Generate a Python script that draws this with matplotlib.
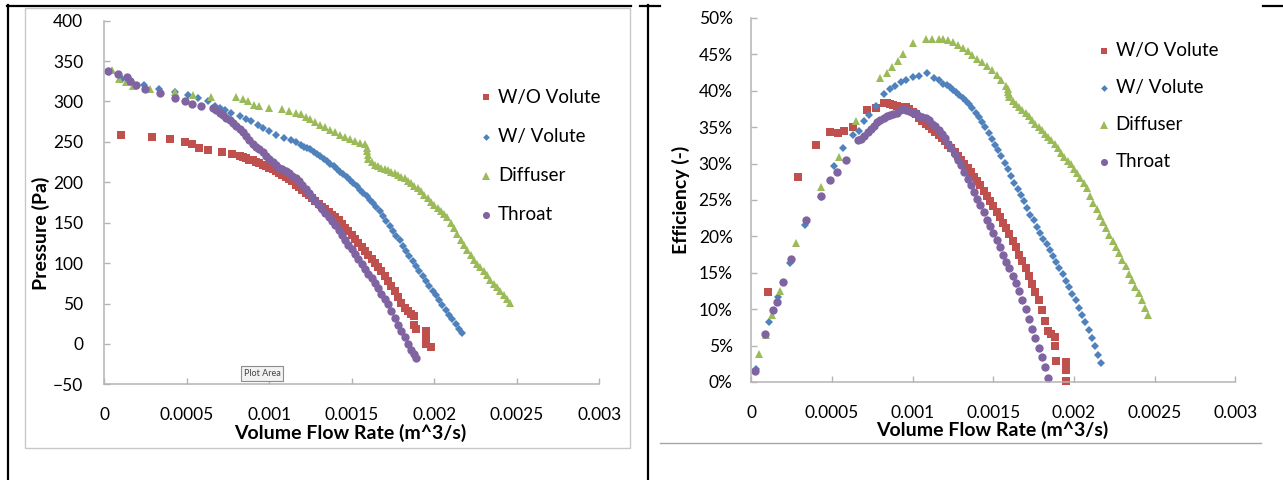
import numpy as np
import matplotlib
matplotlib.use("Agg")
import matplotlib.pyplot as plt
from matplotlib.lines import Line2D
from matplotlib.patches import Rectangle

plt.rcParams['font.family'] = ['Lato', 'DejaVu Sans']

W, H = 1283, 480

series_names = ["W/O Volute", "W/ Volute", "Diffuser", "Throat"]
series_colors = ["#C0504D", "#4F81BD", "#9BBB59", "#8064A2"]
series_markers = ["s", "D", "^", "o"]
marker_sizes = [5.6, 4.0, 6.0, 6.0]

x_ticks = [0, 0.0005, 0.001, 0.0015, 0.002, 0.0025, 0.003]
x_tick_labels = ["0", "0.0005", "0.001", "0.0015", "0.002", "0.0025", "0.003"]
p_ticks = [-50, 0, 50, 100, 150, 200, 250, 300, 350, 400]
eff_ticks = [0, 5, 10, 15, 20, 25, 30, 35, 40, 45, 50]

# volume flow rate, in 1e-5 m^3/s
q_wo = [10, 29, 40, 49, 53.5, 57.7, 63, 71.5, 77.2,
        82, 84, 86, 88, 90, 92, 94, 96, 98, 100, 102, 104, 106, 108, 110, 112, 114, 116, 118, 120,
        122, 124, 126, 128, 130, 132, 134, 136, 138, 140, 142, 144, 146, 148, 150, 152, 154, 156, 158, 160,
        162, 164, 166, 168, 170, 172, 174, 176, 178, 180, 182,
        184, 186, 188, 188, 189, 195, 195, 195, 198]
p_wo = [259, 256, 253, 250, 247, 243, 240, 238, 235.5,
        233, 231, 230, 228, 227, 225, 224, 222, 220, 218, 216, 214, 211, 209, 207, 204, 201, 197, 194, 190,
        187, 184, 180, 177, 173, 170, 167, 163, 160, 157, 153, 149, 144, 140, 135, 130, 125, 120, 115, 110,
        105, 100, 95, 90, 84, 78, 72, 65, 58, 51, 45,
        41, 37, 34, 24, 19, 16, 10, 0, -4]
eff_wo = [12.4, 28.2, 32.6, 34.4, 34.2, 34.5, 35.0, 37.3, 37.6,
          38.3, 38.3, 38.2, 38.1, 37.9, 37.8, 37.7, 37.8, 37.5, 37.1, 36.8, 36.3, 35.9, 35.5, 35.1, 34.7, 34.3, 33.9, 33.5, 33.1,
          32.6, 32.1, 31.6, 31.1, 30.5, 29.9, 29.4, 28.8, 28.2, 27.6, 27.0, 26.3, 25.6, 24.9, 24.2, 23.4, 22.7, 21.9, 21.1, 20.3,
          19.4, 18.5, 17.5, 16.6, 15.7, 14.6, 13.5, 12.4, 11.2, 9.9, 8.4,
          7.0, 6.6, 6.2, 4.9, 2.9, 2.8, 1.6, 0.1, -0.4]

q_wv = [3, 11, 16.5, 24, 33, 43, 51, 57, 63,
        67, 70, 73, 77, 82, 86, 89, 93, 96, 100, 104, 109, 113, 116,
        119, 121, 123, 125, 127, 129, 131, 133, 135, 137, 139, 141, 143, 145, 147, 149, 151, 153, 155, 157,
        159, 161, 163, 165, 167, 169, 171, 173, 175, 177, 179, 181, 183, 185, 187, 189, 191, 193, 195, 197,
        199, 201, 203, 205, 207, 209, 211, 213, 215, 217]
p_wv = [337, 328, 324, 320, 316, 312, 308, 304, 301,
        295, 292.5, 289, 285.5, 282, 278, 276, 271, 267, 263, 259, 255, 252, 250,
        246, 244, 243, 241, 238, 235, 232, 229, 226, 223, 220, 217, 213, 210, 206, 203, 199, 195, 191, 187,
        183, 178, 174, 169, 164, 158, 152, 146, 140, 134, 128, 121, 115, 109, 103, 96, 90, 84, 78, 72,
        66, 60, 54, 48, 42, 36, 31, 25, 19, 14]
eff_wv = [1.8, 8.3, 11.7, 16.4, 21.6, 25.4, 29.7, 32.1, 33.9,
          34.5, 35.8, 36.7, 37.9, 39.6, 40.3, 40.6, 41.2, 41.5, 41.9, 42.0, 42.4, 41.8, 41.5,
          41.0, 40.8, 40.5, 40.1, 39.8, 39.4, 39.0, 38.6, 38.2, 37.6, 37.0, 36.4, 35.7, 35.0, 34.2, 33.4, 32.6, 31.8, 31.0, 30.1,
          29.2, 28.3, 27.4, 26.5, 25.7, 24.8, 23.9, 23.0, 22.2, 21.3, 20.5, 19.7, 18.9, 18.1, 17.3, 16.5, 15.6, 14.8, 13.9, 13.0,
          12.1, 11.2, 10.2, 9.2, 8.2, 7.1, 6.0, 4.9, 3.7, 2.6]

q_df = [5, 9, 13, 17.5, 27.5, 43, 54, 65,
        80, 84, 87, 91, 94, 100, 108, 112, 116,
        119, 122, 125, 128, 131, 134, 137, 140, 143, 146, 149, 152, 155, 158, 159, 159, 160, 160,
        162, 164, 166, 168, 170, 172, 174, 176, 178, 180, 182, 184, 186, 188, 190, 192, 194, 196, 198, 200,
        202, 204, 206, 208, 210, 212, 214, 216, 218, 220, 222, 224, 226, 228, 230, 232, 234, 236, 238, 240,
        242, 244, 246]
p_df = [339, 328, 324, 319, 315, 312, 308, 306,
        306, 303, 300, 296, 294, 292, 290.5, 288, 286,
        284, 281, 278, 275, 271.5, 268, 265, 262, 259, 256, 253, 251, 249, 247, 243, 239, 234, 229,
        225, 222, 220, 218, 217, 215, 213, 211, 209, 207, 205, 202, 199, 196, 193, 189, 184, 180, 176, 172,
        168, 165, 161, 157, 150, 143, 136, 128, 122, 116, 110, 104, 99, 95, 90, 85, 79, 74, 70, 65,
        60, 55, 51]
eff_df = [3.8, 6.5, 9.2, 12.5, 19.1, 26.8, 30.9, 35.9,
          41.7, 42.5, 43.3, 44.1, 45.0, 46.5, 47.1, 47.1, 47.1,
          47.1, 47.0, 46.7, 46.3, 45.9, 45.4, 44.9, 44.4, 43.9, 43.4, 42.8, 42.2, 41.5, 40.7, 40.3, 39.9, 39.5, 39.1,
          38.6, 38.2, 37.8, 37.4, 37.0, 36.5, 36.0, 35.5, 35.0, 34.6, 34.1, 33.6, 33.2, 32.7, 32.1, 31.5, 30.9, 30.4, 29.9, 29.3,
          28.7, 28.0, 27.3, 26.6, 25.6, 24.6, 23.7, 22.8, 22.0, 21.1, 20.2, 19.4, 18.6, 17.7, 16.8, 15.9, 14.9, 14.0, 13.1, 12.2,
          11.2, 10.2, 9.2]

q_th = [2, 8.5, 13.7, 15.8, 19.5, 24.5, 34, 43, 49, 53.3, 58.7,
        66, 68, 70, 72, 74, 76, 78, 80, 82, 84, 86, 88, 90, 92, 94, 96, 98, 100, 102, 104,
        106, 108, 110, 112, 114, 116, 118, 120, 122, 124, 126, 128, 130, 132, 134, 136, 138, 140, 142, 144,
        146, 148, 150, 152, 154, 156, 158, 160, 162, 164, 166, 168, 170, 172, 174, 176, 178, 180, 182, 184,
        186, 188, 189]
p_th = [338, 334.5, 330, 325.5, 320, 316, 311, 304, 300.7, 296.6, 294.5,
        292, 289, 286, 283, 280, 277, 274, 270, 266, 262, 257, 252, 248, 244, 241, 237, 233, 229, 225, 221,
        218, 216, 214, 212, 208, 205, 202, 197, 192, 187, 182, 177, 172, 167, 162, 157, 152, 147, 141, 135,
        129, 123, 117, 111, 105, 99, 93, 87, 81, 75, 69, 62, 56, 49, 41, 32, 23, 16, 8, 0,
        -7, -13, -17]
eff_th = [1.5, 6.6, 9.9, 11.0, 13.7, 16.9, 22.2, 25.6, 27.8, 28.8, 30.5,
          33.2, 33.4, 33.8, 34.3, 34.8, 35.2, 35.7, 36.0, 36.3, 36.6, 36.7, 36.8, 36.9, 37.4, 37.5, 37.4, 37.2, 37.0, 36.9, 36.6,
          36.4, 36.2, 36.0, 35.5, 35.1, 34.6, 34.1, 33.5, 32.7, 32.1, 31.3, 30.5, 29.8, 28.8, 27.9, 27.0, 26.1, 25.2, 24.3, 23.3,
          22.3, 21.4, 20.4, 19.5, 18.5, 17.5, 16.5, 15.6, 14.6, 13.6, 12.5, 11.3, 10.0, 8.7, 7.3, 6.0, 4.7, 3.4, 2.0, 0.6,
          -0.8, -1.8, -2.5]

flows = [q_wo, q_wv, q_df, q_th]
pressures = [p_wo, p_wv, p_df, p_th]
efficiencies = [eff_wo, eff_wv, eff_df, eff_th]

axis_gray = "#B4B4B4"


def fx(px):
    return px / W


def fy(py):
    return 1 - py / H


fig = plt.figure(figsize=(W / 100, H / 100), dpi=100)

ax1 = fig.add_axes([fx(104.2), fy(384.3), (599.2 - 104.2) / W, (384.3 - 20.7) / H])
ax2 = fig.add_axes([fx(751.4), fy(382), (1235.3 - 751.4) / W, (382 - 18) / H])


def style(ax, ypad, xpad):
    for s in ("top", "right"):
        ax.spines[s].set_visible(False)
    for s in ("left", "bottom"):
        ax.spines[s].set_color(axis_gray)
        ax.spines[s].set_linewidth(1.1)
    ax.tick_params(direction="in", length=4, width=1, color=axis_gray, labelsize=12.5)
    ax.tick_params(axis="y", pad=ypad)
    ax.tick_params(axis="x", pad=xpad)
    ax.set_xlim(0, 0.003)
    ax.set_xticks(x_ticks)
    ax.set_xticklabels(x_tick_labels)
    ax.patch.set_alpha(0)


for i in range(4):
    q = np.array(flows[i]) * 1e-5
    ax1.plot(q, pressures[i], linestyle="none", marker=series_markers[i],
             ms=marker_sizes[i], color=series_colors[i], mew=0, clip_on=False)
    eff = np.array(efficiencies[i])
    keep = eff >= 0
    ax2.plot(q[keep], eff[keep], linestyle="none", marker=series_markers[i],
             ms=marker_sizes[i], color=series_colors[i], mew=0, clip_on=False)

style(ax1, 15, 16)
ax1.set_ylim(-50, 400)
ax1.set_yticks(p_ticks)

style(ax2, 13.5, 16.5)
ax2.set_ylim(0, 50)
ax2.set_yticks(eff_ticks)
ax2.set_yticklabels([f"{t}%" for t in eff_ticks])

# axis titles
fig.text(fx(350.5), fy(433), "Volume Flow Rate (m^3/s)", ha="center", va="center",
         fontsize=14, fontweight="bold")
fig.text(fx(41), fy(233), "Pressure (Pa)", ha="center", va="center", rotation=90,
         fontsize=14, fontweight="bold")
fig.text(fx(992), fy(430), "Volume Flow Rate (m^3/s)", ha="center", va="center",
         fontsize=14, fontweight="bold")
fig.text(fx(681), fy(200), "Efficiency (-)", ha="center", va="center", rotation=90,
         fontsize=14, fontweight="bold")


def draw_legend(x_marker, x_text, y_first, step):
    for i, name in enumerate(series_names):
        y = y_first + i * step
        fig.add_artist(Line2D([fx(x_marker)], [fy(y)], transform=fig.transFigure,
                              linestyle="none", marker=series_markers[i],
                              ms=marker_sizes[i] * 0.85, color=series_colors[i], mew=0))
        fig.text(fx(x_text), fy(y), name, ha="left", va="center", fontsize=13.5)


draw_legend(486, 498, 97.3, 39.2)
draw_legend(1104, 1115.5, 50.7, 37)

# "Plot Area" tooltip left over in the left chart
fig.text(fx(262), fy(373.5), "Plot Area", ha="center", va="center", fontsize=6.5,
         color="#444444",
         bbox=dict(boxstyle="square,pad=0.3", fc="#F2F2F2", ec="#8C8C8C", lw=0.8))

# chart frame of the left chart, bottom rule of the right chart
fig.add_artist(Rectangle((fx(25.3), fy(447.7)), (630 - 25.3) / W, (447.7 - 8.3) / H,
                         transform=fig.transFigure, fill=False, ec="#C8C8C8", lw=1))
fig.add_artist(Line2D([fx(660), fx(1261)], [fy(443), fy(443)], transform=fig.transFigure,
                      color="#A6A6A6", lw=1))

# table cell borders
border = dict(transform=fig.transFigure, color="black", lw=1.6)
fig.add_artist(Line2D([fx(8), fx(8)], [fy(5), fy(480)], **border))
fig.add_artist(Line2D([fx(648), fx(648)], [fy(5), fy(480)], **border))
fig.add_artist(Line2D([fx(7), fx(631)], [fy(6), fy(6)], **border))
fig.add_artist(Line2D([fx(640), fx(660)], [fy(6), fy(6)], **border))
fig.add_artist(Line2D([fx(1263), fx(1283)], [fy(6), fy(6)], **border))

fig.savefig("out.png", dpi=100)
